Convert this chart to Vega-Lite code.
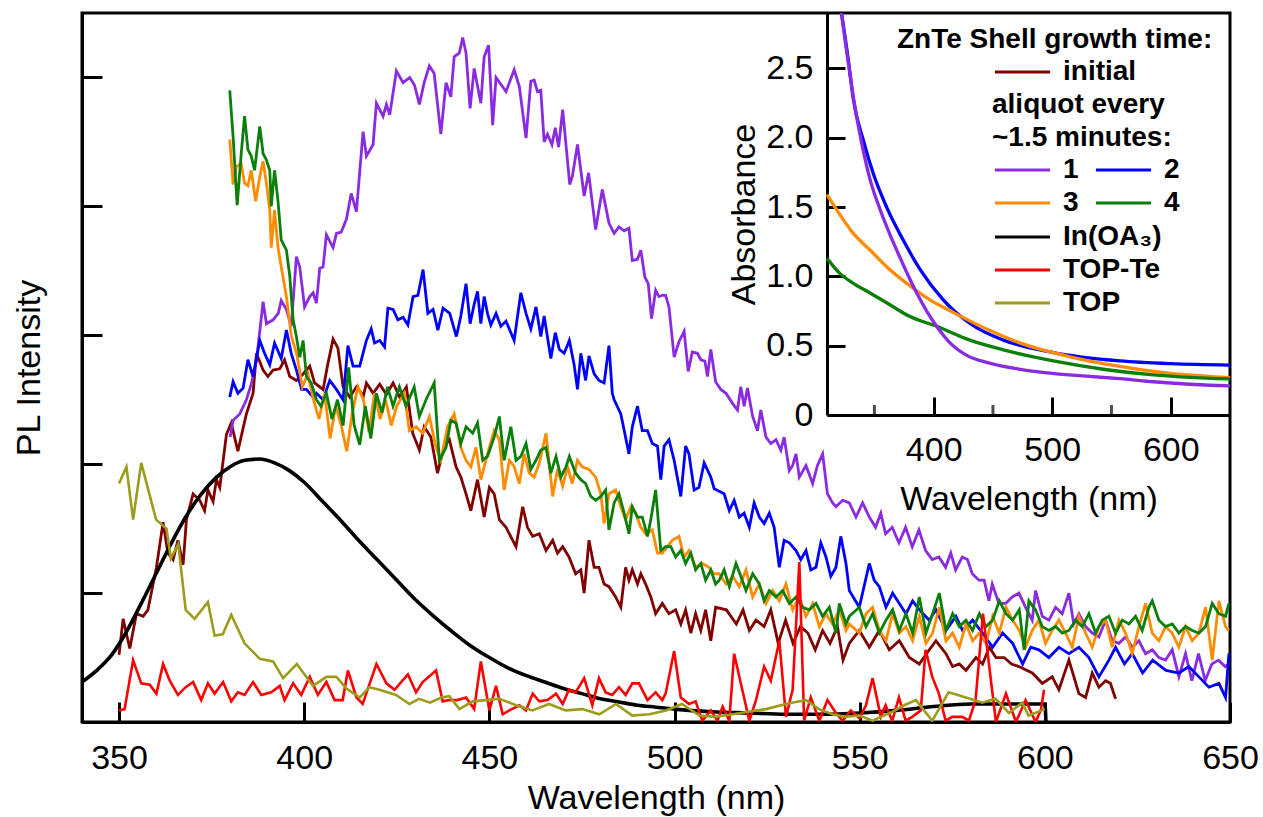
{
"$schema":"https://vega.github.io/schema/vega-lite/v6.json",
"width":1148,"height":709,
"autosize":"none",
"padding":{"left":82,"top":13,"right":33,"bottom":95},
"background":"white",
"config":{
"font":"Liberation Sans",
"view":{"stroke":"black","strokeWidth":3},
"axis":{"grid":false,"domainColor":"black","domainWidth":3,"tickColor":"black","tickWidth":3,"labelColor":"black","titleColor":"black","labelFont":"Liberation Sans","titleFont":"Liberation Sans","titleFontWeight":"normal","labelFontSize":34,"titleFontSize":34,"labelOverlap":false,"labelFlush":false,"minExtent":0},
"legend":{"padding":0,"offset":0,"labelFont":"Liberation Sans","labelFontSize":28,"labelFontWeight":"bold","labelColor":"black","titleFont":"Liberation Sans","titleFontSize":28,"titleFontWeight":"bold","titleColor":"black","titleLimit":500,"labelLimit":300,"rowPadding":5}
},
"datasets":{
"pl":[
{"s":"i","x":350,"y":0.52},{"s":"i","x":351.1,"y":0.8},{"s":"i","x":352.9,"y":0.57},{"s":"i","x":354.7,"y":0.84},{"s":"i","x":356.5,"y":0.82},{"s":"i","x":357.8,"y":0.87},{"s":"i","x":360.1,"y":1.2},{"s":"i","x":361.9,"y":1.55},{"s":"i","x":363.2,"y":1.31},{"s":"i","x":364.6,"y":1.26},{"s":"i","x":365.9,"y":1.41},{"s":"i","x":367.3,"y":1.22},{"s":"i","x":368.2,"y":1.57},{"s":"i","x":370,"y":1.77},{"s":"i","x":371.8,"y":1.72},{"s":"i","x":373.1,"y":1.64},{"s":"i","x":374,"y":1.8},{"s":"i","x":375.4,"y":1.71},{"s":"i","x":376.3,"y":1.88},{"s":"i","x":377.2,"y":1.82},{"s":"i","x":379,"y":2.23},{"s":"i","x":380.3,"y":2.32},{"s":"i","x":382.1,"y":2.1},{"s":"i","x":383.5,"y":2.28},{"s":"i","x":384.4,"y":2.39},{"s":"i","x":386.2,"y":2.55},{"s":"i","x":387.1,"y":2.86},{"s":"i","x":388.9,"y":2.73},{"s":"i","x":390.2,"y":2.68},{"s":"i","x":391.6,"y":2.73},{"s":"i","x":393.4,"y":2.74},{"s":"i","x":394.7,"y":2.81},{"s":"i","x":396.1,"y":2.68},{"s":"i","x":397.9,"y":2.65},{"s":"i","x":399.7,"y":2.7},{"s":"i","x":401.5,"y":2.76},{"s":"i","x":402.8,"y":2.63},{"s":"i","x":405.1,"y":2.58},{"s":"i","x":406.4,"y":2.78},{"s":"i","x":407.8,"y":2.97},{"s":"i","x":409.1,"y":2.9},{"s":"i","x":410.5,"y":2.6},{"s":"i","x":412.3,"y":2.52},{"s":"i","x":414.1,"y":2.6},{"s":"i","x":416,"y":2.53},{"s":"i","x":416.8,"y":2.63},{"s":"i","x":418.6,"y":2.55},{"s":"i","x":420.4,"y":2.62},{"s":"i","x":422.2,"y":2.54},{"s":"i","x":424,"y":2.63},{"s":"i","x":425.8,"y":2.52},{"s":"i","x":427.6,"y":2.6},{"s":"i","x":429.3,"y":2.24},{"s":"i","x":431.1,"y":2.11},{"s":"i","x":432.4,"y":2.29},{"s":"i","x":434.2,"y":2.21},{"s":"i","x":436,"y":1.93},{"s":"i","x":437.8,"y":2.14},{"s":"i","x":439.2,"y":2.19},{"s":"i","x":441,"y":1.98},{"s":"i","x":442.3,"y":1.9},{"s":"i","x":443.7,"y":1.77},{"s":"i","x":445,"y":1.64},{"s":"i","x":446.8,"y":1.88},{"s":"i","x":448.6,"y":1.59},{"s":"i","x":450,"y":1.82},{"s":"i","x":451.3,"y":1.77},{"s":"i","x":452.7,"y":1.57},{"s":"i","x":454.5,"y":1.51},{"s":"i","x":456.3,"y":1.41},{"s":"i","x":457.2,"y":1.36},{"s":"i","x":459,"y":1.67},{"s":"i","x":460.3,"y":1.51},{"s":"i","x":461.7,"y":1.44},{"s":"i","x":463.5,"y":1.46},{"s":"i","x":465.3,"y":1.33},{"s":"i","x":467.1,"y":1.41},{"s":"i","x":468.4,"y":1.31},{"s":"i","x":469.8,"y":1.36},{"s":"i","x":471.5,"y":1.28},{"s":"i","x":473.3,"y":1.15},{"s":"i","x":474.7,"y":1.18},{"s":"i","x":475.6,"y":1.0},{"s":"i","x":476.9,"y":1.41},{"s":"i","x":478.3,"y":1.2},{"s":"i","x":479.6,"y":1.2},{"s":"i","x":481,"y":1.07},{"s":"i","x":482.3,"y":1.05},{"s":"i","x":484.1,"y":0.97},{"s":"i","x":485.5,"y":0.89},{"s":"i","x":486.8,"y":1.2},{"s":"i","x":487.7,"y":1.1},{"s":"i","x":488.6,"y":1.18},{"s":"i","x":490,"y":1.07},{"s":"i","x":490.9,"y":1.15},{"s":"i","x":492.2,"y":1.07},{"s":"i","x":493.6,"y":0.97},{"s":"i","x":494.9,"y":0.84},{"s":"i","x":496.7,"y":0.92},{"s":"i","x":498.5,"y":0.84},{"s":"i","x":500.3,"y":0.87},{"s":"i","x":501.7,"y":0.76},{"s":"i","x":503,"y":0.87},{"s":"i","x":504.4,"y":0.69},{"s":"i","x":505.7,"y":0.84},{"s":"i","x":507.1,"y":0.71},{"s":"i","x":508.4,"y":0.87},{"s":"i","x":509.8,"y":0.63},{"s":"i","x":511.1,"y":0.89},{"s":"i","x":514,"y":0.87},{"s":"i","x":516.7,"y":0.76},{"s":"i","x":518.5,"y":0.87},{"s":"i","x":520.2,"y":0.71},{"s":"i","x":522,"y":0.79},{"s":"i","x":524.2,"y":0.74},{"s":"i","x":526,"y":0.87},{"s":"i","x":528,"y":0.61},{"s":"i","x":530,"y":0.79},{"s":"i","x":532,"y":0.61},{"s":"i","x":534,"y":0.74},{"s":"i","x":536,"y":0.69},{"s":"i","x":538,"y":0.56},{"s":"i","x":540,"y":0.71},{"s":"i","x":542,"y":0.61},{"s":"i","x":544,"y":0.74},{"s":"i","x":545.5,"y":0.48},{"s":"i","x":547.2,"y":0.61},{"s":"i","x":549.9,"y":0.71},{"s":"i","x":552.6,"y":0.58},{"s":"i","x":555.3,"y":0.71},{"s":"i","x":558,"y":0.56},{"s":"i","x":560.7,"y":0.63},{"s":"i","x":563.4,"y":0.5},{"s":"i","x":566.1,"y":0.45},{"s":"i","x":568.8,"y":0.56},{"s":"i","x":570.6,"y":0.63},{"s":"i","x":573.3,"y":0.53},{"s":"i","x":575.1,"y":0.43},{"s":"i","x":576.9,"y":0.45},{"s":"i","x":578.7,"y":0.4},{"s":"i","x":581.4,"y":0.5},{"s":"i","x":583.2,"y":0.45},{"s":"i","x":585,"y":0.58},{"s":"i","x":586.8,"y":0.5},{"s":"i","x":589,"y":0.5},{"s":"i","x":591,"y":0.45},{"s":"i","x":593,"y":0.43},{"s":"i","x":596.6,"y":0.38},{"s":"i","x":599.3,"y":0.3},{"s":"i","x":602,"y":0.35},{"s":"i","x":603.8,"y":0.25},{"s":"i","x":606.5,"y":0.48},{"s":"i","x":609.2,"y":0.22},{"s":"i","x":611,"y":0.19},{"s":"i","x":612.8,"y":0.38},{"s":"i","x":614.6,"y":0.27},{"s":"i","x":616.4,"y":0.32},{"s":"i","x":617.7,"y":0.3},{"s":"i","x":619.1,"y":0.18},
{"s":"1","x":380,"y":2.21},{"s":"1","x":380.8,"y":2.34},{"s":"1","x":382.6,"y":2.39},{"s":"1","x":384.4,"y":2.5},{"s":"1","x":385.7,"y":2.62},{"s":"1","x":387.1,"y":2.8},{"s":"1","x":388.9,"y":3.26},{"s":"1","x":389.8,"y":3.09},{"s":"1","x":391.6,"y":3.12},{"s":"1","x":393,"y":3.17},{"s":"1","x":393.8,"y":3.27},{"s":"1","x":395.2,"y":3.2},{"s":"1","x":396.5,"y":3.07},{"s":"1","x":397.9,"y":3.61},{"s":"1","x":398.8,"y":3.53},{"s":"1","x":400.1,"y":3.22},{"s":"1","x":401.5,"y":3.3},{"s":"1","x":402.4,"y":3.33},{"s":"1","x":403.3,"y":3.25},{"s":"1","x":404.2,"y":3.52},{"s":"1","x":405.1,"y":3.53},{"s":"1","x":406,"y":3.78},{"s":"1","x":407.8,"y":3.68},{"s":"1","x":408.7,"y":3.79},{"s":"1","x":410,"y":3.8},{"s":"1","x":411.4,"y":3.9},{"s":"1","x":412.7,"y":4.1},{"s":"1","x":414.1,"y":3.96},{"s":"1","x":415.9,"y":4.58},{"s":"1","x":416.8,"y":4.39},{"s":"1","x":418.6,"y":4.48},{"s":"1","x":419.5,"y":4.8},{"s":"1","x":421.3,"y":4.7},{"s":"1","x":422.2,"y":4.79},{"s":"1","x":423.1,"y":4.71},{"s":"1","x":424.9,"y":5.05},{"s":"1","x":426.7,"y":4.96},{"s":"1","x":428.5,"y":5.0},{"s":"1","x":429.8,"y":4.94},{"s":"1","x":431.1,"y":4.79},{"s":"1","x":432.4,"y":4.96},{"s":"1","x":433.8,"y":5.09},{"s":"1","x":435.1,"y":5.03},{"s":"1","x":436.9,"y":4.56},{"s":"1","x":438.3,"y":4.96},{"s":"1","x":439.6,"y":4.85},{"s":"1","x":440.5,"y":5.16},{"s":"1","x":441.9,"y":5.19},{"s":"1","x":442.8,"y":5.31},{"s":"1","x":443.7,"y":5.19},{"s":"1","x":444.8,"y":4.76},{"s":"1","x":445.9,"y":5.07},{"s":"1","x":447.7,"y":4.8},{"s":"1","x":448.6,"y":5.16},{"s":"1","x":449.8,"y":5.25},{"s":"1","x":450.9,"y":4.63},{"s":"1","x":451.8,"y":5.0},{"s":"1","x":454.5,"y":4.89},{"s":"1","x":456.7,"y":5.06},{"s":"1","x":458.1,"y":4.93},{"s":"1","x":459.9,"y":4.53},{"s":"1","x":461.2,"y":4.97},{"s":"1","x":462.1,"y":4.98},{"s":"1","x":463,"y":4.89},{"s":"1","x":463.9,"y":4.9},{"s":"1","x":464.8,"y":4.5},{"s":"1","x":465.7,"y":4.56},{"s":"1","x":466.9,"y":4.48},{"s":"1","x":467.8,"y":4.61},{"s":"1","x":468.7,"y":4.46},{"s":"1","x":469.8,"y":4.75},{"s":"1","x":471.7,"y":4.17},{"s":"1","x":472.4,"y":4.23},{"s":"1","x":473.8,"y":4.48},{"s":"1","x":475.6,"y":4.08},{"s":"1","x":476.8,"y":4.26},{"s":"1","x":478.7,"y":3.82},{"s":"1","x":480.5,"y":4.13},{"s":"1","x":482.3,"y":3.87},{"s":"1","x":483.7,"y":3.79},{"s":"1","x":485,"y":3.84},{"s":"1","x":486.4,"y":3.81},{"s":"1","x":487.7,"y":3.83},{"s":"1","x":488.6,"y":3.58},{"s":"1","x":490,"y":3.59},{"s":"1","x":490.9,"y":3.66},{"s":"1","x":492,"y":3.45},{"s":"1","x":492.9,"y":3.4},{"s":"1","x":493.8,"y":3.13},{"s":"1","x":494.9,"y":3.35},{"s":"1","x":495.8,"y":3.3},{"s":"1","x":496.7,"y":3.31},{"s":"1","x":497.6,"y":3.31},{"s":"1","x":498.5,"y":3.22},{"s":"1","x":499.9,"y":2.83},{"s":"1","x":501.2,"y":2.95},{"s":"1","x":502.6,"y":3.03},{"s":"1","x":503.7,"y":2.72},{"s":"1","x":504.8,"y":2.87},{"s":"1","x":506.2,"y":2.86},{"s":"1","x":507.1,"y":2.81},{"s":"1","x":508.2,"y":2.8},{"s":"1","x":508.9,"y":2.68},{"s":"1","x":509.8,"y":2.89},{"s":"1","x":511.1,"y":2.64},{"s":"1","x":512.5,"y":2.58},{"s":"1","x":513.9,"y":2.55},{"s":"1","x":515.7,"y":2.47},{"s":"1","x":517,"y":2.42},{"s":"1","x":517.9,"y":2.6},{"s":"1","x":518.8,"y":2.45},{"s":"1","x":519.7,"y":2.59},{"s":"1","x":521.1,"y":2.37},{"s":"1","x":522.4,"y":2.26},{"s":"1","x":523.3,"y":2.42},{"s":"1","x":524.7,"y":2.21},{"s":"1","x":526,"y":2.16},{"s":"1","x":527.4,"y":2.19},{"s":"1","x":528.7,"y":2.11},{"s":"1","x":529.6,"y":2.21},{"s":"1","x":531,"y":1.95},{"s":"1","x":531.9,"y":1.99},{"s":"1","x":532.8,"y":2.08},{"s":"1","x":533.7,"y":1.9},{"s":"1","x":535.5,"y":1.99},{"s":"1","x":537.3,"y":1.85},{"s":"1","x":538.6,"y":1.99},{"s":"1","x":540,"y":2.08},{"s":"1","x":541.3,"y":1.77},{"s":"1","x":542.7,"y":1.7},{"s":"1","x":543.6,"y":1.67},{"s":"1","x":545.4,"y":1.72},{"s":"1","x":547.2,"y":1.7},{"s":"1","x":549,"y":1.59},{"s":"1","x":550.8,"y":1.7},{"s":"1","x":552.6,"y":1.59},{"s":"1","x":554.3,"y":1.51},{"s":"1","x":555.7,"y":1.62},{"s":"1","x":557,"y":1.46},{"s":"1","x":558.8,"y":1.51},{"s":"1","x":560.6,"y":1.39},{"s":"1","x":562.4,"y":1.51},{"s":"1","x":564.2,"y":1.36},{"s":"1","x":566,"y":1.49},{"s":"1","x":567.8,"y":1.33},{"s":"1","x":569.6,"y":1.26},{"s":"1","x":571.4,"y":1.28},{"s":"1","x":573.2,"y":1.2},{"s":"1","x":574.6,"y":1.31},{"s":"1","x":575.9,"y":1.18},{"s":"1","x":577.7,"y":1.28},{"s":"1","x":579.1,"y":1.26},{"s":"1","x":580.4,"y":1.15},{"s":"1","x":582.2,"y":1.1},{"s":"1","x":583.6,"y":1.1},{"s":"1","x":584.9,"y":0.94},{"s":"1","x":585.8,"y":1.07},{"s":"1","x":587.6,"y":0.92},{"s":"1","x":589.4,"y":0.92},{"s":"1","x":591.2,"y":0.97},{"s":"1","x":593,"y":1.0},{"s":"1","x":594.8,"y":0.89},{"s":"1","x":596.6,"y":0.79},{"s":"1","x":597.5,"y":1.02},{"s":"1","x":599.3,"y":0.82},{"s":"1","x":601.1,"y":0.79},{"s":"1","x":602.9,"y":0.89},{"s":"1","x":604.7,"y":0.84},{"s":"1","x":606.5,"y":1.0},{"s":"1","x":607.8,"y":0.76},{"s":"1","x":609.2,"y":0.84},{"s":"1","x":611,"y":0.74},{"s":"1","x":612.8,"y":0.69},{"s":"1","x":614.6,"y":0.66},{"s":"1","x":616.4,"y":0.79},{"s":"1","x":618.2,"y":0.63},{"s":"1","x":620,"y":0.61},{"s":"1","x":621.8,"y":0.66},{"s":"1","x":623.6,"y":0.58},{"s":"1","x":625.4,"y":0.63},{"s":"1","x":627.2,"y":0.53},{"s":"1","x":629,"y":0.56},{"s":"1","x":630.8,"y":0.5},{"s":"1","x":632.6,"y":0.48},{"s":"1","x":634.4,"y":0.56},{"s":"1","x":636.2,"y":0.35},{"s":"1","x":638,"y":0.53},{"s":"1","x":639.7,"y":0.32},{"s":"1","x":641.5,"y":0.53},{"s":"1","x":643.3,"y":0.32},{"s":"1","x":645.1,"y":0.45},{"s":"1","x":646.9,"y":0.48},{"s":"1","x":648.7,"y":0.43},{"s":"1","x":649.6,"y":0.45},
{"s":"2","x":379.9,"y":2.52},{"s":"2","x":380.8,"y":2.64},{"s":"2","x":382.1,"y":2.55},{"s":"2","x":383.5,"y":2.59},{"s":"2","x":384.8,"y":2.81},{"s":"2","x":386.2,"y":2.68},{"s":"2","x":388,"y":2.96},{"s":"2","x":389.3,"y":2.86},{"s":"2","x":390.7,"y":2.77},{"s":"2","x":392,"y":2.94},{"s":"2","x":393.8,"y":2.82},{"s":"2","x":395.2,"y":3.04},{"s":"2","x":396.5,"y":2.86},{"s":"2","x":397.9,"y":2.73},{"s":"2","x":399.3,"y":2.58},{"s":"2","x":400.6,"y":2.58},{"s":"2","x":402.4,"y":2.52},{"s":"2","x":403.3,"y":2.55},{"s":"2","x":405.1,"y":2.5},{"s":"2","x":406.9,"y":2.65},{"s":"2","x":408.7,"y":2.58},{"s":"2","x":410.5,"y":2.5},{"s":"2","x":411.8,"y":2.92},{"s":"2","x":413.2,"y":2.76},{"s":"2","x":415,"y":2.76},{"s":"2","x":416.8,"y":2.96},{"s":"2","x":418.1,"y":3.05},{"s":"2","x":419,"y":2.94},{"s":"2","x":420.4,"y":2.96},{"s":"2","x":421.7,"y":2.91},{"s":"2","x":422.6,"y":3.21},{"s":"2","x":424,"y":3.2},{"s":"2","x":425.3,"y":3.12},{"s":"2","x":426.7,"y":3.14},{"s":"2","x":428,"y":3.08},{"s":"2","x":429.4,"y":3.3},{"s":"2","x":430.7,"y":3.31},{"s":"2","x":432.1,"y":3.51},{"s":"2","x":433.4,"y":3.17},{"s":"2","x":434.8,"y":3.2},{"s":"2","x":436.1,"y":3.04},{"s":"2","x":437.5,"y":3.21},{"s":"2","x":439.3,"y":3.17},{"s":"2","x":441.1,"y":2.99},{"s":"2","x":442.3,"y":3.15},{"s":"2","x":443.7,"y":3.4},{"s":"2","x":444.8,"y":3.09},{"s":"2","x":445.9,"y":3.24},{"s":"2","x":446.8,"y":3.34},{"s":"2","x":447.7,"y":3.09},{"s":"2","x":448.6,"y":3.3},{"s":"2","x":449.5,"y":3.17},{"s":"2","x":450.4,"y":3.08},{"s":"2","x":451.8,"y":3.17},{"s":"2","x":453.1,"y":3.07},{"s":"2","x":454.5,"y":3.11},{"s":"2","x":456.7,"y":2.96},{"s":"2","x":458.5,"y":3.33},{"s":"2","x":459.9,"y":3.17},{"s":"2","x":461.2,"y":3.05},{"s":"2","x":462.6,"y":3.22},{"s":"2","x":463.9,"y":2.99},{"s":"2","x":464.8,"y":3.15},{"s":"2","x":466.6,"y":2.82},{"s":"2","x":467.8,"y":3.02},{"s":"2","x":468.9,"y":2.89},{"s":"2","x":470.2,"y":2.86},{"s":"2","x":471.6,"y":2.96},{"s":"2","x":472.9,"y":2.77},{"s":"2","x":473.8,"y":2.58},{"s":"2","x":474.7,"y":2.86},{"s":"2","x":476,"y":2.65},{"s":"2","x":476.9,"y":2.84},{"s":"2","x":478.3,"y":2.7},{"s":"2","x":479.6,"y":2.65},{"s":"2","x":481,"y":2.63},{"s":"2","x":482.3,"y":2.92},{"s":"2","x":483.2,"y":2.55},{"s":"2","x":483.7,"y":2.5},{"s":"2","x":485.5,"y":2.39},{"s":"2","x":487.7,"y":2.08},{"s":"2","x":488.6,"y":2.29},{"s":"2","x":490,"y":2.45},{"s":"2","x":491.3,"y":2.26},{"s":"2","x":492.7,"y":2.26},{"s":"2","x":494,"y":2.16},{"s":"2","x":495.4,"y":2.14},{"s":"2","x":496.3,"y":1.88},{"s":"2","x":497.2,"y":2.14},{"s":"2","x":498.5,"y":2.19},{"s":"2","x":499.9,"y":2.03},{"s":"2","x":501.7,"y":1.75},{"s":"2","x":503,"y":2.14},{"s":"2","x":503.9,"y":2.08},{"s":"2","x":505.3,"y":1.8},{"s":"2","x":506.6,"y":1.82},{"s":"2","x":508,"y":2.01},{"s":"2","x":509.8,"y":1.9},{"s":"2","x":510.7,"y":1.81},{"s":"2","x":513.4,"y":1.77},{"s":"2","x":514.8,"y":1.64},{"s":"2","x":516.1,"y":1.72},{"s":"2","x":517.5,"y":1.59},{"s":"2","x":518.8,"y":1.62},{"s":"2","x":520.2,"y":1.51},{"s":"2","x":521.5,"y":1.7},{"s":"2","x":522.9,"y":1.59},{"s":"2","x":524.2,"y":1.54},{"s":"2","x":525.6,"y":1.62},{"s":"2","x":526.9,"y":1.51},{"s":"2","x":528.3,"y":1.2},{"s":"2","x":529.6,"y":1.41},{"s":"2","x":531,"y":1.39},{"s":"2","x":532.8,"y":1.33},{"s":"2","x":534.1,"y":1.26},{"s":"2","x":535.5,"y":1.33},{"s":"2","x":536.8,"y":1.18},{"s":"2","x":538.2,"y":1.2},{"s":"2","x":539.5,"y":1.39},{"s":"2","x":540.9,"y":1.28},{"s":"2","x":542.2,"y":1.13},{"s":"2","x":543.6,"y":1.2},{"s":"2","x":544.9,"y":1.44},{"s":"2","x":546.3,"y":1.23},{"s":"2","x":547.2,"y":1.02},{"s":"2","x":549.9,"y":0.89},{"s":"2","x":552.6,"y":1.23},{"s":"2","x":553.9,"y":1.1},{"s":"2","x":555.3,"y":1.05},{"s":"2","x":557.1,"y":0.89},{"s":"2","x":558.9,"y":1.0},{"s":"2","x":560.7,"y":0.92},{"s":"2","x":562.5,"y":0.84},{"s":"2","x":564.3,"y":0.94},{"s":"2","x":566.1,"y":0.87},{"s":"2","x":568.8,"y":0.79},{"s":"2","x":570.6,"y":0.87},{"s":"2","x":573.3,"y":0.71},{"s":"2","x":576,"y":0.82},{"s":"2","x":577.8,"y":0.71},{"s":"2","x":580.5,"y":0.79},{"s":"2","x":583.2,"y":0.69},{"s":"2","x":585.9,"y":0.58},{"s":"2","x":588.6,"y":0.69},{"s":"2","x":591.3,"y":0.61},{"s":"2","x":594,"y":0.45},{"s":"2","x":596.2,"y":0.58},{"s":"2","x":598.4,"y":0.56},{"s":"2","x":601.1,"y":0.5},{"s":"2","x":603.8,"y":0.58},{"s":"2","x":606.5,"y":0.53},{"s":"2","x":609.2,"y":0.58},{"s":"2","x":611.9,"y":0.5},{"s":"2","x":614.6,"y":0.35},{"s":"2","x":617.3,"y":0.48},{"s":"2","x":619.1,"y":0.58},{"s":"2","x":621.5,"y":0.45},{"s":"2","x":623.6,"y":0.53},{"s":"2","x":626.4,"y":0.38},{"s":"2","x":629.1,"y":0.48},{"s":"2","x":632.7,"y":0.4},{"s":"2","x":636.2,"y":0.38},{"s":"2","x":638.9,"y":0.43},{"s":"2","x":641.6,"y":0.35},{"s":"2","x":644.3,"y":0.27},{"s":"2","x":647,"y":0.3},{"s":"2","x":648.8,"y":0.19},{"s":"2","x":649.7,"y":0.53},
{"s":"3","x":379.9,"y":4.52},{"s":"3","x":380.8,"y":4.17},{"s":"3","x":381.7,"y":4.31},{"s":"3","x":383,"y":4.33},{"s":"3","x":383.9,"y":4.18},{"s":"3","x":384.8,"y":4.16},{"s":"3","x":385.7,"y":4.28},{"s":"3","x":386.9,"y":4.04},{"s":"3","x":388,"y":4.23},{"s":"3","x":388.9,"y":4.35},{"s":"3","x":389.8,"y":4.18},{"s":"3","x":390.7,"y":3.97},{"s":"3","x":391.1,"y":3.68},{"s":"3","x":392,"y":3.97},{"s":"3","x":392.9,"y":3.69},{"s":"3","x":393.8,"y":3.53},{"s":"3","x":395.2,"y":3.3},{"s":"3","x":396.5,"y":3.0},{"s":"3","x":398,"y":2.85},{"s":"3","x":399.5,"y":2.6},{"s":"3","x":401,"y":2.7},{"s":"3","x":402.5,"y":2.5},{"s":"3","x":404,"y":2.35},{"s":"3","x":405.5,"y":2.55},{"s":"3","x":407,"y":2.2},{"s":"3","x":408.5,"y":2.45},{"s":"3","x":410,"y":2.3},{"s":"3","x":411.5,"y":2.1},{"s":"3","x":413,"y":2.4},{"s":"3","x":414.5,"y":2.6},{"s":"3","x":416,"y":2.5},{"s":"3","x":417.5,"y":2.25},{"s":"3","x":419,"y":2.55},{"s":"3","x":420.5,"y":2.35},{"s":"3","x":422,"y":2.5},{"s":"3","x":423.5,"y":2.3},{"s":"3","x":425,"y":2.45},{"s":"3","x":427,"y":2.55},{"s":"3","x":428.4,"y":2.26},{"s":"3","x":430.2,"y":2.29},{"s":"3","x":432,"y":2.24},{"s":"3","x":433.8,"y":2.37},{"s":"3","x":435.6,"y":2.13},{"s":"3","x":436.9,"y":2.03},{"s":"3","x":438.7,"y":2.29},{"s":"3","x":440.5,"y":2.39},{"s":"3","x":442.3,"y":2.13},{"s":"3","x":443.7,"y":2.03},{"s":"3","x":445,"y":1.98},{"s":"3","x":446.4,"y":2.13},{"s":"3","x":447.7,"y":1.88},{"s":"3","x":449.5,"y":2.08},{"s":"3","x":451.3,"y":2.26},{"s":"3","x":452.7,"y":2.19},{"s":"3","x":454,"y":1.8},{"s":"3","x":455.4,"y":2.03},{"s":"3","x":456.7,"y":1.98},{"s":"3","x":458.1,"y":1.85},{"s":"3","x":459.4,"y":2.08},{"s":"3","x":460.8,"y":1.93},{"s":"3","x":462.1,"y":1.9},{"s":"3","x":463.5,"y":2.01},{"s":"3","x":465.3,"y":2.24},{"s":"3","x":467.1,"y":1.75},{"s":"3","x":468.4,"y":1.96},{"s":"3","x":469.8,"y":1.83},{"s":"3","x":471.1,"y":1.98},{"s":"3","x":472.4,"y":1.85},{"s":"3","x":473.8,"y":2.03},{"s":"3","x":475.1,"y":1.98},{"s":"3","x":476.9,"y":1.96},{"s":"3","x":478.7,"y":1.9},{"s":"3","x":480.1,"y":1.77},{"s":"3","x":481,"y":1.54},{"s":"3","x":482.3,"y":1.77},{"s":"3","x":484.1,"y":1.8},{"s":"3","x":485.5,"y":1.67},{"s":"3","x":486.8,"y":1.57},{"s":"3","x":488.2,"y":1.67},{"s":"3","x":489.5,"y":1.62},{"s":"3","x":490.9,"y":1.51},{"s":"3","x":492.2,"y":1.46},{"s":"3","x":494,"y":1.49},{"s":"3","x":495.4,"y":1.31},{"s":"3","x":496.7,"y":1.31},{"s":"3","x":498.1,"y":1.36},{"s":"3","x":499.4,"y":1.41},{"s":"3","x":501.2,"y":1.44},{"s":"3","x":502.6,"y":1.28},{"s":"3","x":503.9,"y":1.33},{"s":"3","x":505.7,"y":1.2},{"s":"3","x":507.5,"y":1.23},{"s":"3","x":509.3,"y":1.2},{"s":"3","x":510.7,"y":1.15},{"s":"3","x":512,"y":1.15},{"s":"3","x":513.9,"y":1.07},{"s":"3","x":515.7,"y":1.13},{"s":"3","x":517.5,"y":1.05},{"s":"3","x":519.3,"y":1.18},{"s":"3","x":521.1,"y":0.97},{"s":"3","x":522.9,"y":1.07},{"s":"3","x":524.7,"y":0.92},{"s":"3","x":526.5,"y":1.02},{"s":"3","x":528.3,"y":0.94},{"s":"3","x":530.1,"y":1.07},{"s":"3","x":531.9,"y":0.87},{"s":"3","x":533.7,"y":0.97},{"s":"3","x":535.5,"y":0.82},{"s":"3","x":537.3,"y":0.92},{"s":"3","x":539.1,"y":0.74},{"s":"3","x":540.9,"y":0.84},{"s":"3","x":542.7,"y":0.76},{"s":"3","x":544.5,"y":0.87},{"s":"3","x":546.3,"y":0.71},{"s":"3","x":547.2,"y":0.76},{"s":"3","x":549.9,"y":0.69},{"s":"3","x":551.7,"y":0.84},{"s":"3","x":553.5,"y":0.89},{"s":"3","x":555.3,"y":0.71},{"s":"3","x":557.1,"y":0.63},{"s":"3","x":558.9,"y":0.84},{"s":"3","x":560.7,"y":0.69},{"s":"3","x":562.5,"y":0.74},{"s":"3","x":564.3,"y":0.63},{"s":"3","x":566.1,"y":0.82},{"s":"3","x":567.9,"y":0.61},{"s":"3","x":569.7,"y":0.69},{"s":"3","x":571.5,"y":0.89},{"s":"3","x":573.3,"y":0.63},{"s":"3","x":575.1,"y":0.69},{"s":"3","x":576.9,"y":0.58},{"s":"3","x":578.7,"y":0.76},{"s":"3","x":580.5,"y":0.63},{"s":"3","x":582.3,"y":0.69},{"s":"3","x":584.1,"y":0.61},{"s":"3","x":585.9,"y":0.82},{"s":"3","x":587.7,"y":0.69},{"s":"3","x":589.5,"y":0.89},{"s":"3","x":591.3,"y":0.79},{"s":"3","x":593.1,"y":0.71},{"s":"3","x":594.8,"y":0.58},{"s":"3","x":596.6,"y":0.71},{"s":"3","x":598.4,"y":0.79},{"s":"3","x":600.2,"y":0.61},{"s":"3","x":602,"y":0.71},{"s":"3","x":603.8,"y":0.79},{"s":"3","x":605.6,"y":0.69},{"s":"3","x":607.4,"y":0.58},{"s":"3","x":609.2,"y":0.82},{"s":"3","x":611,"y":0.69},{"s":"3","x":612.8,"y":0.58},{"s":"3","x":614.6,"y":0.74},{"s":"3","x":616.4,"y":0.79},{"s":"3","x":618.2,"y":0.58},{"s":"3","x":620,"y":0.79},{"s":"3","x":621.8,"y":0.69},{"s":"3","x":623.6,"y":0.53},{"s":"3","x":625.4,"y":0.74},{"s":"3","x":627.2,"y":0.92},{"s":"3","x":629,"y":0.69},{"s":"3","x":630.8,"y":0.63},{"s":"3","x":632.6,"y":0.74},{"s":"3","x":634.4,"y":0.69},{"s":"3","x":636.2,"y":0.58},{"s":"3","x":638,"y":0.74},{"s":"3","x":639.8,"y":0.63},{"s":"3","x":641.6,"y":0.69},{"s":"3","x":643.4,"y":0.89},{"s":"3","x":645.2,"y":0.48},{"s":"3","x":647,"y":0.94},{"s":"3","x":648.8,"y":0.74},{"s":"3","x":649.7,"y":0.71},
{"s":"4","x":379.9,"y":4.9},{"s":"4","x":380.8,"y":4.54},{"s":"4","x":381.9,"y":4.01},{"s":"4","x":383,"y":4.41},{"s":"4","x":383.9,"y":4.7},{"s":"4","x":384.8,"y":4.44},{"s":"4","x":385.7,"y":4.39},{"s":"4","x":386.6,"y":4.28},{"s":"4","x":388,"y":4.62},{"s":"4","x":388.9,"y":4.41},{"s":"4","x":389.8,"y":4.36},{"s":"4","x":390.7,"y":4.28},{"s":"4","x":391.1,"y":4.0},{"s":"4","x":392,"y":4.28},{"s":"4","x":392.9,"y":4.05},{"s":"4","x":393.8,"y":3.74},{"s":"4","x":395.2,"y":3.66},{"s":"4","x":396.1,"y":3.46},{"s":"4","x":397,"y":3.12},{"s":"4","x":397.9,"y":2.99},{"s":"4","x":398.8,"y":2.83},{"s":"4","x":399.7,"y":2.96},{"s":"4","x":400.6,"y":2.68},{"s":"4","x":401.9,"y":2.63},{"s":"4","x":403.3,"y":2.5},{"s":"4","x":404.5,"y":2.45},{"s":"4","x":406,"y":2.55},{"s":"4","x":407.5,"y":2.35},{"s":"4","x":409,"y":2.5},{"s":"4","x":410.5,"y":2.3},{"s":"4","x":412,"y":2.75},{"s":"4","x":413.5,"y":2.3},{"s":"4","x":415,"y":2.15},{"s":"4","x":416.5,"y":2.45},{"s":"4","x":418,"y":2.2},{"s":"4","x":419.5,"y":2.55},{"s":"4","x":421,"y":2.4},{"s":"4","x":422.5,"y":2.6},{"s":"4","x":424,"y":2.45},{"s":"4","x":425.7,"y":2.6},{"s":"4","x":427.5,"y":2.45},{"s":"4","x":429.7,"y":2.6},{"s":"4","x":431.1,"y":2.37},{"s":"4","x":432.9,"y":2.5},{"s":"4","x":435.1,"y":2.63},{"s":"4","x":436.5,"y":2.03},{"s":"4","x":438.3,"y":2.13},{"s":"4","x":439.6,"y":2.34},{"s":"4","x":441,"y":2.32},{"s":"4","x":442.3,"y":2.16},{"s":"4","x":443.7,"y":2.29},{"s":"4","x":445.5,"y":2.24},{"s":"4","x":446.8,"y":2.32},{"s":"4","x":448.2,"y":2.03},{"s":"4","x":449.5,"y":2.06},{"s":"4","x":451.3,"y":2.21},{"s":"4","x":452.7,"y":2.37},{"s":"4","x":454,"y":2.03},{"s":"4","x":455.8,"y":2.29},{"s":"4","x":457.2,"y":2.03},{"s":"4","x":458.5,"y":2.06},{"s":"4","x":459.9,"y":2.16},{"s":"4","x":461.2,"y":1.96},{"s":"4","x":462.6,"y":2.03},{"s":"4","x":463.9,"y":2.11},{"s":"4","x":465.3,"y":2.13},{"s":"4","x":466.6,"y":1.93},{"s":"4","x":468,"y":2.06},{"s":"4","x":469.3,"y":1.9},{"s":"4","x":470.7,"y":1.98},{"s":"4","x":471.6,"y":2.06},{"s":"4","x":473.3,"y":1.93},{"s":"4","x":474.7,"y":1.88},{"s":"4","x":476,"y":1.85},{"s":"4","x":477.4,"y":1.75},{"s":"4","x":478.7,"y":1.72},{"s":"4","x":480.1,"y":1.75},{"s":"4","x":481.4,"y":1.8},{"s":"4","x":482.3,"y":1.49},{"s":"4","x":483.7,"y":1.7},{"s":"4","x":485,"y":1.77},{"s":"4","x":486.4,"y":1.62},{"s":"4","x":487.7,"y":1.46},{"s":"4","x":488.6,"y":1.67},{"s":"4","x":490,"y":1.59},{"s":"4","x":491.3,"y":1.59},{"s":"4","x":492.7,"y":1.44},{"s":"4","x":493.6,"y":1.57},{"s":"4","x":494.9,"y":1.8},{"s":"4","x":496.3,"y":1.33},{"s":"4","x":497.6,"y":1.36},{"s":"4","x":499,"y":1.36},{"s":"4","x":500.3,"y":1.28},{"s":"4","x":501.7,"y":1.33},{"s":"4","x":503,"y":1.23},{"s":"4","x":504.4,"y":1.31},{"s":"4","x":505.7,"y":1.18},{"s":"4","x":507.1,"y":1.23},{"s":"4","x":508.4,"y":1.1},{"s":"4","x":509.8,"y":1.18},{"s":"4","x":511.1,"y":1.07},{"s":"4","x":512.1,"y":1.1},{"s":"4","x":513.4,"y":1.18},{"s":"4","x":514.8,"y":1.05},{"s":"4","x":516.6,"y":1.23},{"s":"4","x":517.9,"y":1.13},{"s":"4","x":519.3,"y":1.02},{"s":"4","x":521.1,"y":1.15},{"s":"4","x":522.9,"y":1.07},{"s":"4","x":524.2,"y":0.94},{"s":"4","x":525.6,"y":1.02},{"s":"4","x":527.4,"y":0.97},{"s":"4","x":529.2,"y":1.02},{"s":"4","x":531,"y":0.92},{"s":"4","x":532.8,"y":0.97},{"s":"4","x":534.6,"y":0.89},{"s":"4","x":536.4,"y":0.87},{"s":"4","x":538.2,"y":0.92},{"s":"4","x":540,"y":0.82},{"s":"4","x":541.8,"y":0.89},{"s":"4","x":543.6,"y":0.69},{"s":"4","x":544.5,"y":0.92},{"s":"4","x":546.3,"y":0.76},{"s":"4","x":547.2,"y":0.82},{"s":"4","x":549.9,"y":0.89},{"s":"4","x":551.7,"y":0.74},{"s":"4","x":553.5,"y":0.84},{"s":"4","x":555.3,"y":0.69},{"s":"4","x":557.1,"y":0.79},{"s":"4","x":558.9,"y":0.87},{"s":"4","x":560.7,"y":0.71},{"s":"4","x":562.5,"y":0.84},{"s":"4","x":564.3,"y":0.69},{"s":"4","x":566.1,"y":0.97},{"s":"4","x":567.9,"y":0.69},{"s":"4","x":569.7,"y":0.84},{"s":"4","x":571.5,"y":1.0},{"s":"4","x":573.3,"y":0.71},{"s":"4","x":575.1,"y":0.84},{"s":"4","x":576.9,"y":0.74},{"s":"4","x":578.7,"y":0.79},{"s":"4","x":580.5,"y":0.71},{"s":"4","x":582.3,"y":0.84},{"s":"4","x":584.1,"y":0.74},{"s":"4","x":585.9,"y":0.79},{"s":"4","x":587.7,"y":0.94},{"s":"4","x":589.5,"y":0.84},{"s":"4","x":591.3,"y":0.79},{"s":"4","x":593.1,"y":0.87},{"s":"4","x":594.4,"y":0.56},{"s":"4","x":595.7,"y":0.94},{"s":"4","x":597.5,"y":0.87},{"s":"4","x":599.3,"y":0.74},{"s":"4","x":601.1,"y":0.71},{"s":"4","x":602.9,"y":0.74},{"s":"4","x":604.7,"y":0.69},{"s":"4","x":606.5,"y":0.71},{"s":"4","x":608.3,"y":0.79},{"s":"4","x":610.1,"y":0.74},{"s":"4","x":611.9,"y":0.84},{"s":"4","x":613.7,"y":0.69},{"s":"4","x":615.5,"y":0.79},{"s":"4","x":617.3,"y":0.82},{"s":"4","x":619.1,"y":0.69},{"s":"4","x":620.9,"y":0.79},{"s":"4","x":622.7,"y":0.76},{"s":"4","x":624.5,"y":0.82},{"s":"4","x":626.3,"y":0.71},{"s":"4","x":628.1,"y":0.89},{"s":"4","x":629,"y":0.94},{"s":"4","x":630.8,"y":0.79},{"s":"4","x":632.6,"y":0.74},{"s":"4","x":634.4,"y":0.76},{"s":"4","x":636.2,"y":0.69},{"s":"4","x":638,"y":0.74},{"s":"4","x":639.8,"y":0.71},{"s":"4","x":641.6,"y":0.69},{"s":"4","x":643.4,"y":0.74},{"s":"4","x":645.2,"y":0.92},{"s":"4","x":647,"y":0.84},{"s":"4","x":648.8,"y":0.82},{"s":"4","x":649.7,"y":0.92},
{"s":"k","x":340,"y":0.31},{"s":"k","x":344,"y":0.4},{"s":"k","x":348,"y":0.52},{"s":"k","x":352,"y":0.7},{"s":"k","x":356,"y":0.92},{"s":"k","x":360,"y":1.15},{"s":"k","x":364,"y":1.38},{"s":"k","x":368,"y":1.59},{"s":"k","x":372,"y":1.76},{"s":"k","x":376,"y":1.89},{"s":"k","x":380,"y":1.98},{"s":"k","x":384,"y":2.03},{"s":"k","x":388,"y":2.04},{"s":"k","x":392,"y":2.01},{"s":"k","x":396,"y":1.95},{"s":"k","x":400,"y":1.86},{"s":"k","x":405,"y":1.71},{"s":"k","x":410,"y":1.56},{"s":"k","x":415,"y":1.4},{"s":"k","x":420,"y":1.25},{"s":"k","x":425,"y":1.1},{"s":"k","x":430,"y":0.95},{"s":"k","x":435,"y":0.82},{"s":"k","x":440,"y":0.7},{"s":"k","x":445,"y":0.59},{"s":"k","x":450,"y":0.5},{"s":"k","x":455,"y":0.42},{"s":"k","x":460,"y":0.36},{"s":"k","x":465,"y":0.31},{"s":"k","x":470,"y":0.26},{"s":"k","x":475,"y":0.22},{"s":"k","x":480,"y":0.18},{"s":"k","x":485,"y":0.155},{"s":"k","x":490,"y":0.13},{"s":"k","x":495,"y":0.115},{"s":"k","x":500,"y":0.1},{"s":"k","x":510,"y":0.08},{"s":"k","x":520,"y":0.07},{"s":"k","x":530,"y":0.06},{"s":"k","x":540,"y":0.06},{"s":"k","x":550,"y":0.07},{"s":"k","x":560,"y":0.09},{"s":"k","x":570,"y":0.12},{"s":"k","x":580,"y":0.14},{"s":"k","x":590,"y":0.14},{"s":"k","x":600,"y":0.14},{"s":"k","x":600.3,"y":0.0},
{"s":"r","x":350,"y":0.09},{"s":"r","x":351.5,"y":0.1},{"s":"r","x":353.8,"y":0.48},{"s":"r","x":356,"y":0.3},{"s":"r","x":358.3,"y":0.29},{"s":"r","x":360.1,"y":0.22},{"s":"r","x":361.9,"y":0.45},{"s":"r","x":363.7,"y":0.32},{"s":"r","x":365.9,"y":0.21},{"s":"r","x":368,"y":0.27},{"s":"r","x":370,"y":0.31},{"s":"r","x":372.2,"y":0.17},{"s":"r","x":374,"y":0.3},{"s":"r","x":375.8,"y":0.22},{"s":"r","x":378.1,"y":0.31},{"s":"r","x":380.3,"y":0.16},{"s":"r","x":382.1,"y":0.23},{"s":"r","x":383.9,"y":0.21},{"s":"r","x":386.2,"y":0.31},{"s":"r","x":388.4,"y":0.21},{"s":"r","x":391.1,"y":0.23},{"s":"r","x":393.4,"y":0.28},{"s":"r","x":394.7,"y":0.17},{"s":"r","x":397,"y":0.3},{"s":"r","x":399.2,"y":0.21},{"s":"r","x":401.5,"y":0.35},{"s":"r","x":403.7,"y":0.21},{"s":"r","x":406,"y":0.31},{"s":"r","x":408.2,"y":0.17},{"s":"r","x":410.4,"y":0.17},{"s":"r","x":411.8,"y":0.4},{"s":"r","x":414.1,"y":0.19},{"s":"r","x":415.8,"y":0.14},{"s":"r","x":419.5,"y":0.45},{"s":"r","x":422.2,"y":0.3},{"s":"r","x":424.4,"y":0.25},{"s":"r","x":428,"y":0.37},{"s":"r","x":430.2,"y":0.23},{"s":"r","x":432,"y":0.31},{"s":"r","x":435.6,"y":0.4},{"s":"r","x":437.4,"y":0.16},{"s":"r","x":439.2,"y":0.17},{"s":"r","x":441.4,"y":0.17},{"s":"r","x":443.7,"y":0.19},{"s":"r","x":445.9,"y":0.1},{"s":"r","x":447.7,"y":0.47},{"s":"r","x":450,"y":0.09},{"s":"r","x":451.8,"y":0.28},{"s":"r","x":453.6,"y":0.06},{"s":"r","x":455.4,"y":0.09},{"s":"r","x":458.1,"y":0.13},{"s":"r","x":459.9,"y":0.09},{"s":"r","x":461.7,"y":0.22},{"s":"r","x":463.5,"y":0.16},{"s":"r","x":465.7,"y":0.17},{"s":"r","x":468,"y":0.22},{"s":"r","x":469.8,"y":0.14},{"s":"r","x":471.5,"y":0.25},{"s":"r","x":473.3,"y":0.23},{"s":"r","x":475.6,"y":0.34},{"s":"r","x":477.8,"y":0.13},{"s":"r","x":479.6,"y":0.34},{"s":"r","x":481.4,"y":0.23},{"s":"r","x":483.2,"y":0.21},{"s":"r","x":485,"y":0.27},{"s":"r","x":486.8,"y":0.21},{"s":"r","x":488.6,"y":0.3},{"s":"r","x":490.4,"y":0.3},{"s":"r","x":492.7,"y":0.17},{"s":"r","x":494.9,"y":0.23},{"s":"r","x":496.7,"y":0.17},{"s":"r","x":497.6,"y":0.22},{"s":"r","x":499.9,"y":0.55},{"s":"r","x":501.7,"y":0.19},{"s":"r","x":503.9,"y":0.14},{"s":"r","x":505.7,"y":0.16},{"s":"r","x":507.5,"y":0.01},{"s":"r","x":509.8,"y":0.09},{"s":"r","x":511.6,"y":0.01},{"s":"r","x":513,"y":0.12},{"s":"r","x":514.8,"y":0.01},{"s":"r","x":516.1,"y":0.53},{"s":"r","x":517.9,"y":0.3},{"s":"r","x":520.2,"y":0.01},{"s":"r","x":522,"y":0.17},{"s":"r","x":524.2,"y":0.43},{"s":"r","x":526,"y":0.32},{"s":"r","x":528.3,"y":0.63},{"s":"r","x":530.1,"y":0.04},{"s":"r","x":531.9,"y":0.25},{"s":"r","x":533.7,"y":1.24},{"s":"r","x":535,"y":0.01},{"s":"r","x":536.8,"y":0.19},{"s":"r","x":539.1,"y":0.01},{"s":"r","x":541.3,"y":0.17},{"s":"r","x":543.6,"y":0.07},{"s":"r","x":545.4,"y":0.01},{"s":"r","x":547.6,"y":0.09},{"s":"r","x":549.9,"y":0.03},{"s":"r","x":551.7,"y":0.13},{"s":"r","x":553.5,"y":0.34},{"s":"r","x":555.7,"y":0.04},{"s":"r","x":557,"y":0.13},{"s":"r","x":558.8,"y":0.01},{"s":"r","x":560.6,"y":0.19},{"s":"r","x":562.4,"y":0.01},{"s":"r","x":564.2,"y":0.04},{"s":"r","x":566.5,"y":0.09},{"s":"r","x":567.8,"y":0.56},{"s":"r","x":569.6,"y":0.35},{"s":"r","x":571.4,"y":0.22},{"s":"r","x":573.2,"y":0.01},{"s":"r","x":575,"y":0.04},{"s":"r","x":577.7,"y":0.04},{"s":"r","x":579.5,"y":0.01},{"s":"r","x":581.3,"y":0.17},{"s":"r","x":583.3,"y":0.84},{"s":"r","x":585,"y":0.43},{"s":"r","x":586.8,"y":0.0},{"s":"r","x":589.5,"y":0.22},{"s":"r","x":592.2,"y":0.0},{"s":"r","x":594.8,"y":0.17},{"s":"r","x":597.5,"y":0.0},{"s":"r","x":598.9,"y":0.09},{"s":"r","x":599.8,"y":0.25},
{"s":"o","x":350,"y":1.85},{"s":"o","x":352,"y":1.98},{"s":"o","x":353.8,"y":1.57},{"s":"o","x":356,"y":2.01},{"s":"o","x":360,"y":1.57},{"s":"o","x":362.8,"y":1.5},{"s":"o","x":364,"y":1.27},{"s":"o","x":366,"y":1.38},{"s":"o","x":368,"y":0.87},{"s":"o","x":370.4,"y":0.8},{"s":"o","x":374,"y":0.93},{"s":"o","x":375.8,"y":0.67},{"s":"o","x":378,"y":0.68},{"s":"o","x":380.3,"y":0.83},{"s":"o","x":383.9,"y":0.61},{"s":"o","x":388,"y":0.49},{"s":"o","x":391.6,"y":0.47},{"s":"o","x":394.3,"y":0.34},{"s":"o","x":398,"y":0.45},{"s":"o","x":402.4,"y":0.28},{"s":"o","x":406,"y":0.35},{"s":"o","x":408.7,"y":0.35},{"s":"o","x":411.4,"y":0.26},{"s":"o","x":415,"y":0.19},{"s":"o","x":417.6,"y":0.27},{"s":"o","x":420.3,"y":0.25},{"s":"o","x":424.8,"y":0.21},{"s":"o","x":428.4,"y":0.14},{"s":"o","x":431,"y":0.18},{"s":"o","x":434,"y":0.15},{"s":"o","x":437,"y":0.19},{"s":"o","x":439.2,"y":0.2},{"s":"o","x":441.9,"y":0.1},{"s":"o","x":445.5,"y":0.16},{"s":"o","x":449,"y":0.17},{"s":"o","x":452.7,"y":0.18},{"s":"o","x":457.2,"y":0.13},{"s":"o","x":461.6,"y":0.09},{"s":"o","x":466.1,"y":0.14},{"s":"o","x":470.6,"y":0.09},{"s":"o","x":475.1,"y":0.1},{"s":"o","x":479.7,"y":0.06},{"s":"o","x":484.2,"y":0.14},{"s":"o","x":488.6,"y":0.05},{"s":"o","x":493.2,"y":0.06},{"s":"o","x":497.7,"y":0.09},{"s":"o","x":502,"y":0.14},{"s":"o","x":506.7,"y":0.05},{"s":"o","x":511,"y":0.04},{"s":"o","x":515.7,"y":0.06},{"s":"o","x":520,"y":0.08},{"s":"o","x":524.7,"y":0.1},{"s":"o","x":530,"y":0.14},{"s":"o","x":535.5,"y":0.17},{"s":"o","x":539,"y":0.1},{"s":"o","x":542.7,"y":0.06},{"s":"o","x":546,"y":0.04},{"s":"o","x":549.9,"y":0.05},{"s":"o","x":553.5,"y":0.01},{"s":"o","x":558.9,"y":0.08},{"s":"o","x":562,"y":0.13},{"s":"o","x":565.2,"y":0.17},{"s":"o","x":569.6,"y":0.01},{"s":"o","x":574,"y":0.23},{"s":"o","x":578.7,"y":0.19},{"s":"o","x":583.1,"y":0.15},{"s":"o","x":586.7,"y":0.18},{"s":"o","x":590.3,"y":0.07},{"s":"o","x":593.9,"y":0.15},{"s":"o","x":595.6,"y":0.05},{"s":"o","x":599.2,"y":0.09},{"s":"o","x":600,"y":0.1}
],
"ab":[
{"s":"2","x":322.4,"y":2.89},{"s":"2","x":328,"y":2.56},{"s":"2","x":332.2,"y":2.28},{"s":"2","x":340.7,"y":1.98},{"s":"2","x":349.1,"y":1.74},{"s":"2","x":360.3,"y":1.5},{"s":"2","x":374.4,"y":1.26},{"s":"2","x":388.5,"y":1.05},{"s":"2","x":408.1,"y":0.83},{"s":"2","x":430.6,"y":0.66},{"s":"2","x":458.8,"y":0.54},{"s":"2","x":501,"y":0.45},{"s":"2","x":557.2,"y":0.39},{"s":"2","x":600,"y":0.37},{"s":"2","x":650,"y":0.36},
{"s":"3","x":310,"y":1.59},{"s":"3","x":318.2,"y":1.48},{"s":"3","x":332.2,"y":1.31},{"s":"3","x":346.3,"y":1.19},{"s":"3","x":360.3,"y":1.07},{"s":"3","x":377.2,"y":0.95},{"s":"3","x":396.9,"y":0.83},{"s":"3","x":416.6,"y":0.74},{"s":"3","x":444.7,"y":0.62},{"s":"3","x":472.8,"y":0.52},{"s":"3","x":515,"y":0.42},{"s":"3","x":557.2,"y":0.35},{"s":"3","x":599.4,"y":0.3},{"s":"3","x":650,"y":0.27},
{"s":"4","x":310,"y":1.13},{"s":"4","x":321,"y":1.02},{"s":"4","x":332.2,"y":0.95},{"s":"4","x":346.3,"y":0.88},{"s":"4","x":360.3,"y":0.81},{"s":"4","x":380,"y":0.71},{"s":"4","x":402.5,"y":0.64},{"s":"4","x":430.6,"y":0.54},{"s":"4","x":458.8,"y":0.47},{"s":"4","x":501,"y":0.39},{"s":"4","x":543.1,"y":0.33},{"s":"4","x":585.3,"y":0.29},{"s":"4","x":650,"y":0.26},
{"s":"1","x":318,"y":3.25},{"s":"1","x":322.4,"y":2.89},{"s":"1","x":328,"y":2.54},{"s":"1","x":333.6,"y":2.22},{"s":"1","x":340,"y":1.93},{"s":"1","x":346.3,"y":1.7},{"s":"1","x":354,"y":1.5},{"s":"1","x":363.2,"y":1.3},{"s":"1","x":368.8,"y":1.19},{"s":"1","x":377.2,"y":1.03},{"s":"1","x":385.7,"y":0.88},{"s":"1","x":394.1,"y":0.75},{"s":"1","x":402.5,"y":0.64},{"s":"1","x":413.8,"y":0.52},{"s":"1","x":427.9,"y":0.43},{"s":"1","x":444.7,"y":0.38},{"s":"1","x":472.8,"y":0.33},{"s":"1","x":500,"y":0.3},{"s":"1","x":529.1,"y":0.28},{"s":"1","x":560,"y":0.26},{"s":"1","x":585.3,"y":0.24},{"s":"1","x":620,"y":0.22},{"s":"1","x":650,"y":0.21}
],
"minor":[{"m":350},{"m":450},{"m":550}]
},
"layer":[
{"data":{"name":"pl"},"transform":[{"filter":"datum.s === 'i'"}],
"mark":{"type":"line","strokeWidth":2.8,"clip":true},
"encoding":{
"x":{"field":"x","type":"quantitative","scale":{"domain":[340,650],"nice":false,"zero":false},"axis":{"orient":"bottom","title":"Wavelength (nm)","values":[350,400,450,500,550,600,650],"format":"d","tickSize":-20,"labelPadding":39,"titlePadding":6}},
"y":{"field":"y","type":"quantitative","scale":{"domain":[0,5.5],"nice":false},"axis":{"orient":"left","title":"PL Intensity","values":[1,2,3,4,5],"labels":false,"tickSize":-20,"titlePadding":34}},
"color":{"field":"s","type":"nominal","scale":{"domain":["i"],"range":["#800000"]},"legend":{"title":"ZnTe Shell growth time:","orient":"none","legendX":815,"legendY":13,"symbolType":"M-4,0H4","symbolSize":190,"symbolStrokeWidth":3,"symbolOffset":111.5,"labelOffset":26.5,"titlePadding":4,"labelExpr":"'initial'"}}
}},
{"data":{"name":"pl"},"transform":[{"filter":"indexof(['1','2','3','4'], datum.s) >= 0"}],
"mark":{"type":"line","strokeWidth":2.8,"clip":true},
"encoding":{
"x":{"field":"x","type":"quantitative","scale":{"domain":[340,650],"nice":false,"zero":false},"axis":null},
"y":{"field":"y","type":"quantitative","scale":{"domain":[0,5.5],"nice":false},"axis":null},
"color":{"field":"s","type":"nominal","scale":{"domain":["1","3","2","4"],"range":["#8a2be2","#ff8c00","#0000ff","#0a7f0a"]},"legend":{"title":["aliquot every","~1.5 minutes:"],"orient":"none","legendX":910,"legendY":78,"columns":2,"columnPadding":10,"symbolType":"M-4,0H4","symbolSize":190,"symbolStrokeWidth":3,"symbolOffset":16.5,"labelOffset":26.5,"titlePadding":4,"titleLineHeight":33}}
}},
{"data":{"name":"pl"},"transform":[{"filter":"datum.s === 'k'"}],
"mark":{"type":"line","strokeWidth":3.6,"color":"black","interpolate":"monotone","clip":true},
"encoding":{
"x":{"field":"x","type":"quantitative","scale":{"domain":[340,650],"nice":false,"zero":false},"axis":null},
"y":{"field":"y","type":"quantitative","scale":{"domain":[0,5.5],"nice":false},"axis":null}
}},
{"data":{"name":"pl"},"transform":[{"filter":"datum.s === 'r' || datum.s === 'o'"}],
"mark":{"type":"line","strokeWidth":2.6,"clip":true},
"encoding":{
"x":{"field":"x","type":"quantitative","scale":{"domain":[340,650],"nice":false,"zero":false},"axis":null},
"y":{"field":"y","type":"quantitative","scale":{"domain":[0,5.5],"nice":false},"axis":null},
"color":{"field":"s","type":"nominal","scale":{"domain":["k","r","o"],"range":["#000000","#ff0000","#9c9c1c"]},"legend":{"title":null,"orient":"none","legendX":910,"legendY":210,"symbolType":"M-4,0H4","symbolSize":190,"symbolStrokeWidth":3,"symbolOffset":16.5,"labelOffset":26.5,"labelExpr":"datum.label == 'k' ? 'In(OA₃)' : datum.label == 'r' ? 'TOP-Te' : 'TOP'"}}
}},
{"data":{"name":"ab"},
"mark":{"type":"line","strokeWidth":3.3,"interpolate":"monotone","clip":true},
"encoding":{
"x":{"field":"x","type":"quantitative","scale":{"domain":[310,650],"range":[745,1148],"nice":false,"zero":false},"axis":{"orient":"bottom","offset":-307,"title":"Wavelength (nm)","values":[400,500,600],"format":"d","tickSize":-18,"labelPadding":36,"titlePadding":15}},
"y":{"field":"y","type":"quantitative","scale":{"domain":[0,2.9],"range":[402,0],"nice":false},"axis":{"orient":"left","offset":-745,"title":"Absorbance","values":[0,0.5,1,1.5,2,2.5],"labelExpr":"datum.value == 0 ? '0' : format(datum.value, '.1f')","tickSize":-18,"labelPadding":32,"titlePadding":4}},
"color":{"field":"s","type":"nominal","scale":{"domain":["1","2","3","4"],"range":["#8a2be2","#0000ff","#ff8c00","#0a7f0a"]},"legend":null}
}},
{"data":{"name":"minor"},
"mark":{"type":"tick","orient":"vertical","color":"black","thickness":3,"size":10,"yOffset":-5},
"encoding":{
"x":{"field":"m","type":"quantitative","scale":{"domain":[310,650],"range":[745,1148],"nice":false,"zero":false},"axis":null},
"y":{"datum":0,"type":"quantitative","scale":{"domain":[0,2.9],"range":[402,0],"nice":false},"axis":null}
}}
],
"resolve":{"scale":{"x":"independent","y":"independent","color":"independent"}}
}
